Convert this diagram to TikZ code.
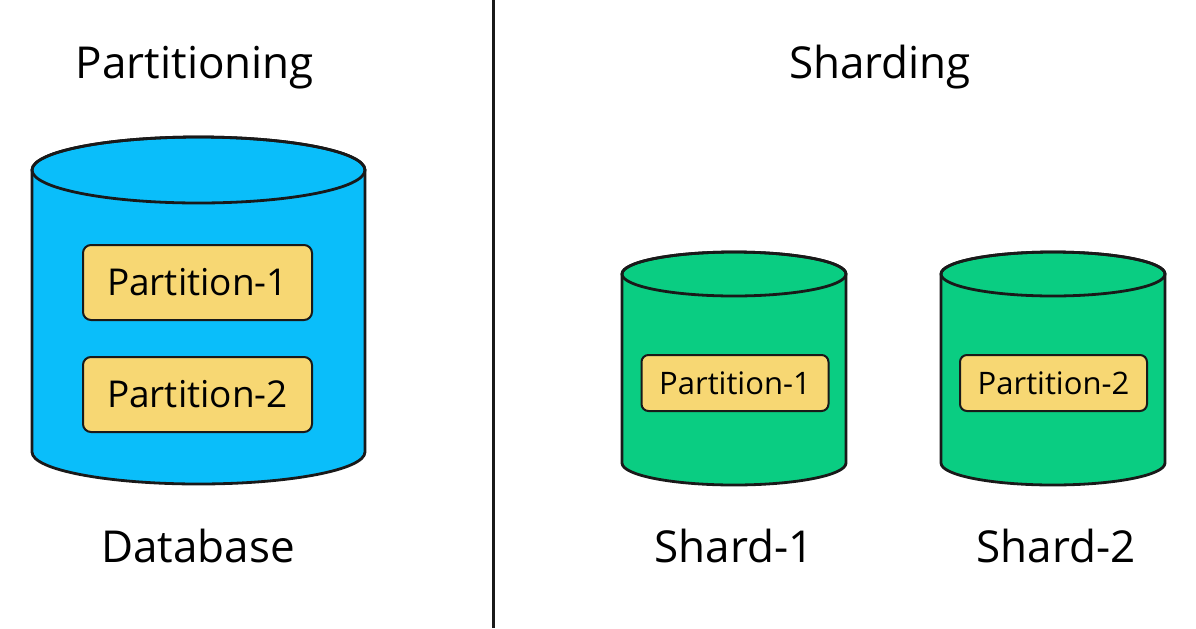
\documentclass[tikz,border=0pt]{standalone}
\usepackage{fontspec}
\setmainfont{Open Sans}
\definecolor{dbblue}{RGB}{10,190,250}
\definecolor{shardgreen}{RGB}{10,205,130}
\definecolor{partyellow}{RGB}{247,215,115}
\definecolor{inkline}{RGB}{25,25,25}
\tikzset{
  title/.style={font=\fontsize{22}{26}\selectfont, anchor=base, inner sep=0pt},
  bigpart/.style={draw=inkline, line width=1pt, fill=partyellow, rounded corners=4pt,
    minimum width=114.5pt, minimum height=37.5pt, font=\fontsize{18.5}{22}\selectfont},
  smallpart/.style={draw=inkline, line width=1pt, fill=partyellow, rounded corners=3.5pt,
    minimum width=93.5pt, minimum height=28pt, font=\fontsize{15.5}{18}\selectfont},
  drum/.style={draw=inkline, line width=1.4pt}
}
\begin{document}
\begin{tikzpicture}[x=0.5pt, y=0.5pt]
\useasboundingbox (0,0) rectangle (1196,-628);

% divider
\draw[line width=1.5pt, inkline] (493,0) -- (493,-628);

\node[title] (t1) at (195,-78) {Partitioning};
\node[title] (t2) at (880,-78) {Sharding};

% database
\draw[drum, fill=dbblue] (32,-170) -- (32,-452) arc[start angle=180, end angle=360, x radius=166.5, y radius=32]
  -- (365,-170) arc[start angle=0, end angle=180, x radius=166.5, y radius=33] -- cycle;
\draw[drum] (198.5,-170) ellipse [x radius=166.5, y radius=33];

% shards
\draw[drum, fill=shardgreen] (622,-274) -- (622,-463) arc[start angle=180, end angle=360, x radius=112, y radius=22]
  -- (846,-274) arc[start angle=0, end angle=180, x radius=112, y radius=22] -- cycle;
\draw[drum] (734,-274) ellipse [x radius=112, y radius=22];

\draw[drum, fill=shardgreen] (941,-274) -- (941,-463) arc[start angle=180, end angle=360, x radius=112, y radius=22]
  -- (1165,-274) arc[start angle=0, end angle=180, x radius=112, y radius=22] -- cycle;
\draw[drum] (1053,-274) ellipse [x radius=112, y radius=22];

\node[bigpart] (p1) at (197.5,-282.5) {Partition-1};
\node[bigpart] (p2) at (197.5,-394.5) {Partition-2};

\node[smallpart] (s1) at (735,-383) {Partition-1};
\node[smallpart] (s2) at (1053.5,-383) {Partition-2};

\node[title] (l1) at (198,-562) {Database};
\node[title] (l2) at (734,-562) {Shard-1};
\node[title] (l3) at (1056,-562) {Shard-2};

\end{tikzpicture}
\end{document}
